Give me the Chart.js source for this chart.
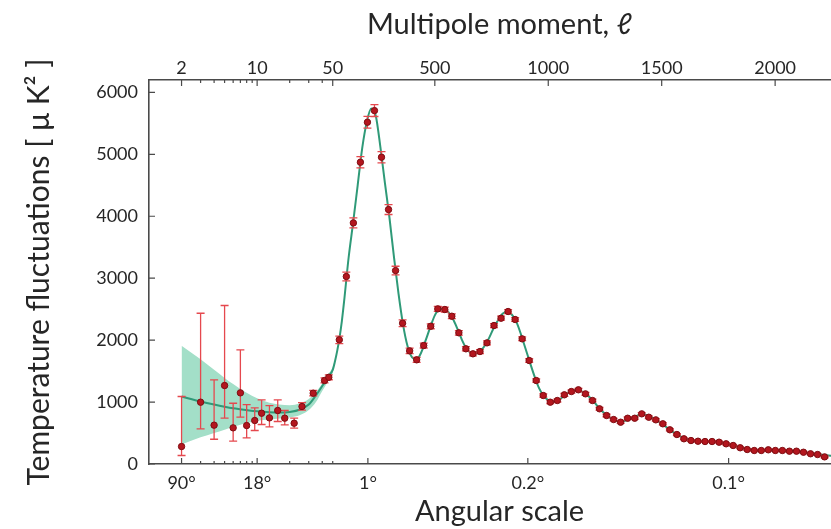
<!DOCTYPE html>
<html>
<head>
<meta charset="utf-8">
<script src="https://cdn.jsdelivr.net/npm/chart.js@4.4.1/dist/chart.umd.min.js"></script>
<style>
  html, body { margin: 0; padding: 0; background: #fff; overflow: hidden; }
  #wrap { width: 831px; height: 529px; overflow: hidden; }
  canvas { display: block; }
</style>
</head>
<body>
<div id="wrap"><canvas id="cmb" width="855" height="529"></canvas></div>
<script>
// low-l binned points: multipole, D_l, and the error bar ends
const LOW_ELL = [2, 3, 4, 5, 6, 7, 8, 9.5, 11, 13, 15.5, 18, 22, 26, 33, 42, 46];
const LOW_DL = [282, 998, 627, 1267, 584, 1149, 621, 702, 820, 745, 864, 740, 659, 928, 1143, 1348, 1400];
const LOW_UP = [1090, 2434, 1359, 2559, 981, 1843, 960, 907, 1036, 944, 1036, 864, 740, 990, 1190, 1390, 1440];
const LOW_DOWN = [137, 568, 400, 740, 368, 756, 423, 541, 638, 600, 686, 632, 580, 870, 1100, 1310, 1360];

// high-l binned points (symmetric errors)
const HIGH_ELL = [79, 110, 141, 172, 203, 234, 265, 296, 327, 358,
  389, 420, 451, 482, 513, 544, 575, 606, 637, 668,
  699, 730, 761, 792, 823, 854, 885, 916, 947, 978,
  1009, 1040, 1071, 1102, 1133, 1164, 1195, 1226, 1257, 1288,
  1319, 1350, 1381, 1412, 1443, 1474, 1505, 1536, 1567, 1598,
  1629, 1660, 1691, 1722, 1753, 1784, 1815, 1846, 1877, 1908,
  1939, 1970, 2001, 2032, 2063, 2094, 2125, 2156, 2187, 2218];
const HIGH_DL = [2005, 3027, 3893, 4872, 5518, 5706, 4953, 4108, 3123, 2273,
  1827, 1682, 1913, 2224, 2505, 2494, 2386, 2118, 1860, 1779,
  1816, 1956, 2236, 2354, 2462, 2333, 2021, 1671, 1348, 1106,
  998, 1025, 1117, 1170, 1198, 1133, 1025, 891, 783, 718,
  675, 739, 739, 810, 755, 713, 649, 552, 476, 407,
  379, 368, 363, 363, 352, 326, 299, 262, 234, 218,
  218, 229, 218, 218, 207, 207, 190, 165, 153, 115];
const HIGH_ERR = [60, 70, 80, 90, 95, 95, 90, 80, 70, 55,
  45, 40, 40, 40, 40, 40, 38, 36, 34, 32,
  32, 32, 32, 32, 32, 30, 30, 28, 26, 25,
  24, 24, 24, 24, 24, 23, 22, 21, 20, 20,
  20, 20, 20, 20, 20, 19, 18, 17, 16, 15,
  15, 15, 15, 15, 15, 15, 15, 14, 14, 14,
  14, 14, 14, 14, 14, 14, 14, 14, 14, 14];

// best-fit model curve
const THEORY_ELL = [2, 3, 4, 5, 6, 8, 10, 13, 16, 20, 25, 30, 35, 40, 45, 50,
  60, 70, 80, 90, 100, 120, 140, 160, 180, 200, 220, 240, 260, 280, 300, 320, 340, 360, 380,
  400, 420, 440, 460, 480, 500, 520, 540, 560, 580, 600, 620, 640, 660, 680, 700, 720, 740,
  760, 780, 800, 820, 840, 860, 880, 900, 920, 940, 960, 980, 1000, 1020, 1040, 1060, 1080,
  1100, 1120, 1140, 1160, 1180, 1200, 1220, 1240, 1260, 1280, 1300, 1320, 1340, 1360, 1380,
  1400, 1420, 1440, 1460, 1480, 1500, 1520, 1540, 1560, 1580, 1600, 1620, 1640, 1660, 1680,
  1700, 1720, 1740, 1760, 1780, 1800, 1820, 1840, 1860, 1880, 1900, 1920, 1940, 1960, 1980,
  2000, 2020, 2040, 2060, 2080, 2100, 2120, 2140, 2160, 2180, 2200, 2225, 2260, 2300, 2340];
const THEORY_DL = [1090, 1010, 960, 925, 900, 870, 850, 835, 830, 840, 880, 960, 1110, 1260, 1400, 1520,
  1660, 1830, 2040, 2300, 2620, 3330, 3900, 4500, 5100, 5520, 5740, 5620, 5120, 4540, 3980, 3340, 2750, 2250, 1900,
  1720, 1690, 1800, 2000, 2210, 2400, 2500, 2510, 2450, 2340, 2180, 2000, 1860, 1790, 1780, 1820, 1910, 2040,
  2200, 2330, 2430, 2460, 2410, 2290, 2090, 1860, 1630, 1410, 1220, 1100, 1030, 1005, 1020, 1070, 1130,
  1170, 1195, 1185, 1145, 1085, 1010, 920, 845, 780, 730, 695, 685, 700, 728, 760,
  790, 800, 782, 745, 698, 648, 598, 545, 492, 450, 418, 395, 380, 372, 368,
  365, 361, 354, 344, 330, 312, 292, 272, 254, 240, 229, 222, 218, 216, 214,
  212, 210, 207, 203, 199, 194, 188, 180, 172, 163, 154, 143, 130, 120, 112];

// cosmic variance band at low l
const BAND_ELL = [2, 3, 4, 5, 6, 7, 8, 10, 13, 16, 20, 25, 30, 35, 40, 45, 50, 55];
const BAND_HI = [1910, 1690, 1520, 1390, 1290, 1210, 1150, 1060, 990, 960, 950, 980, 1050, 1160, 1300, 1440, 1570, 1640];
const BAND_LO = [315, 430, 500, 555, 600, 635, 660, 700, 720, 735, 750, 790, 870, 1000, 1180, 1330, 1470, 1560];

// axes
const Y_TICKS = [0, 1000, 2000, 3000, 4000, 5000, 6000];
const TOP_TICKS = [2, 10, 50, 500, 1000, 1500, 2000];
const LOG_MINOR = [3, 4, 5, 6, 7, 8, 9, 20, 30, 40];
const ANGLE_TICKS = [2, 10, 205, 910, 1795];
const ANGLE_LABELS = ['90°', '18°', '1°', '0.2°', '0.1°'];

const AXIS_COLOR = '#4a4a4a';
const TEXT_COLOR = '#262626';

// log below l=50, linear above
const SPLIT = 50, LOG_GAIN = 207;
const warp = (l) => l >= SPLIT ? l : SPLIT + LOG_GAIN * Math.log(l / SPLIT);
const unwarp = (u) => u >= SPLIT ? u : SPLIT * Math.exp((u - SPLIT) / LOG_GAIN);

class HybridScale extends Chart.LinearScale {
  getPixelForValue(value) {
    const a = warp(this.min), b = warp(this.max);
    return this.getPixelForDecimal((warp(value) - a) / (b - a));
  }
  getValueForPixel(pixel) {
    const a = warp(this.min), b = warp(this.max);
    return unwarp(a + this.getDecimalForPixel(pixel) * (b - a));
  }
}
HybridScale.id = 'hybrid';
HybridScale.defaults = Chart.LinearScale.defaults;
Chart.register(HybridScale);

const pts = (xs, ys) => xs.map((x, i) => ({ x: x, y: ys[i] }));

const errorBars = {
  id: 'errorBars',
  beforeDatasetDraw(chart, args) {
    if (args.index !== 0) return;
    const { ctx, scales: { x, y } } = chart;
    ctx.save();
    ctx.strokeStyle = '#e5484e';
    ctx.lineWidth = 1.3;
    ctx.beginPath();
    const bar = (l, lo, hi) => {
      const px = x.getPixelForValue(l);
      const p1 = y.getPixelForValue(lo), p2 = y.getPixelForValue(hi);
      ctx.moveTo(px, p1); ctx.lineTo(px, p2);
      ctx.moveTo(px - 4, p1); ctx.lineTo(px + 4, p1);
      ctx.moveTo(px - 4, p2); ctx.lineTo(px + 4, p2);
    };
    LOW_ELL.forEach((l, i) => bar(l, LOW_DOWN[i], LOW_UP[i]));
    HIGH_ELL.forEach((l, i) => bar(l, HIGH_DL[i] - HIGH_ERR[i], HIGH_DL[i] + HIGH_ERR[i]));
    ctx.stroke();
    ctx.restore();
  }
};

// matplotlib-style ticks pointing into the plot
const inwardTicks = {
  id: 'inwardTicks',
  afterDatasetsDraw(chart) {
    const { ctx, chartArea: a, scales } = chart;
    ctx.save();
    ctx.strokeStyle = AXIS_COLOR;
    ctx.lineWidth = 1.2;
    ctx.beginPath();
    scales.y.ticks.forEach(t => {
      const py = scales.y.getPixelForValue(t.value);
      ctx.moveTo(a.left, py); ctx.lineTo(a.left + 6, py);
    });
    scales.x.ticks.forEach(t => {
      const px = scales.x.getPixelForValue(t.value);
      ctx.moveTo(px, a.bottom); ctx.lineTo(px, a.bottom - (t.label ? 6 : 3));
    });
    scales.xTop.ticks.forEach(t => {
      const px = scales.xTop.getPixelForValue(t.value);
      ctx.moveTo(px, a.top); ctx.lineTo(px, a.top + (t.label ? 6 : 3));
    });
    ctx.stroke();
    ctx.restore();
  }
};

Chart.defaults.font.family = 'Lato, "DejaVu Sans", sans-serif';
Chart.defaults.color = TEXT_COLOR;

const tickFont = { size: 18 };
const titleFont = { size: 29 };

new Chart(document.getElementById('cmb'), {
  type: 'line',
  data: {
    datasets: [
      {
        label: 'Planck data',
        data: pts(LOW_ELL, LOW_DL).concat(pts(HIGH_ELL, HIGH_DL)),
        showLine: false,
        pointRadius: 3.2,
        pointBackgroundColor: '#b3161e',
        pointBorderColor: '#7e0d12',
        pointBorderWidth: 1
      },
      {
        label: 'Model',
        data: pts(THEORY_ELL, THEORY_DL),
        borderColor: '#2f9a78',
        borderWidth: 2,
        pointRadius: 0,
        cubicInterpolationMode: 'monotone'
      },
      {
        label: 'band hi',
        data: pts(BAND_ELL, BAND_HI),
        borderWidth: 0,
        pointRadius: 0,
        backgroundColor: '#a3dfc8',
        fill: '+1',
        cubicInterpolationMode: 'monotone'
      },
      {
        label: 'band lo',
        data: pts(BAND_ELL, BAND_LO),
        borderWidth: 0,
        pointRadius: 0,
        fill: false,
        cubicInterpolationMode: 'monotone'
      }
    ]
  },
  options: {
    responsive: false,
    animation: false,
    layout: { padding: 0 },
    plugins: { legend: { display: false }, tooltip: { enabled: false } },
    scales: {
      x: {
        type: 'hybrid',
        position: 'bottom',
        min: 1,
        max: 2330,
        bounds: 'data',
        afterBuildTicks: (s) => {
          s.ticks = ANGLE_TICKS.concat(LOG_MINOR, [50]).map(v => ({ value: v }));
        },
        afterFit: (s) => { s.height = 65; },
        ticks: {
          autoSkip: false,
          maxRotation: 0,
          padding: 8,
          font: tickFont,
          callback: (v) => {
            const i = ANGLE_TICKS.indexOf(v);
            return i >= 0 ? ANGLE_LABELS[i] : '';
          }
        },
        grid: { display: false, drawTicks: false },
        border: { display: true, color: AXIS_COLOR, width: 1.6 },
        title: { display: true, text: 'Angular scale', font: titleFont, color: TEXT_COLOR, padding: { top: 0, bottom: 0 } }
      },
      xTop: {
        type: 'hybrid',
        position: 'top',
        min: 1,
        max: 2330,
        bounds: 'data',
        afterBuildTicks: (s) => {
          s.ticks = TOP_TICKS.concat(LOG_MINOR).map(v => ({ value: v }));
        },
        afterFit: (s) => { s.height = 80; },
        ticks: {
          autoSkip: false,
          maxRotation: 0,
          padding: 1,
          font: tickFont,
          callback: (v) => TOP_TICKS.includes(v) ? String(v) : ''
        },
        grid: { display: false, drawTicks: false },
        border: { display: true, color: AXIS_COLOR, width: 1.6 },
        title: { display: true, text: 'Multipole moment, ℓ', font: titleFont, color: TEXT_COLOR, padding: { top: 7, bottom: 0 } }
      },
      y: {
        type: 'linear',
        min: 0,
        max: 6200,
        afterBuildTicks: (s) => { s.ticks = Y_TICKS.map(v => ({ value: v })); },
        afterFit: (s) => { s.width = 149; },
        ticks: { padding: 11, font: tickFont, callback: (v) => String(v) },
        grid: { display: false, drawTicks: false },
        border: { display: true, color: AXIS_COLOR, width: 1.6 },
        title: { display: true, text: 'Temperature fluctuations [ μ K² ]', font: { size: 30 }, color: TEXT_COLOR, padding: { top: 21, bottom: 0 } }
      }
    }
  },
  plugins: [errorBars, inwardTicks]
});
</script>
</body>
</html>
